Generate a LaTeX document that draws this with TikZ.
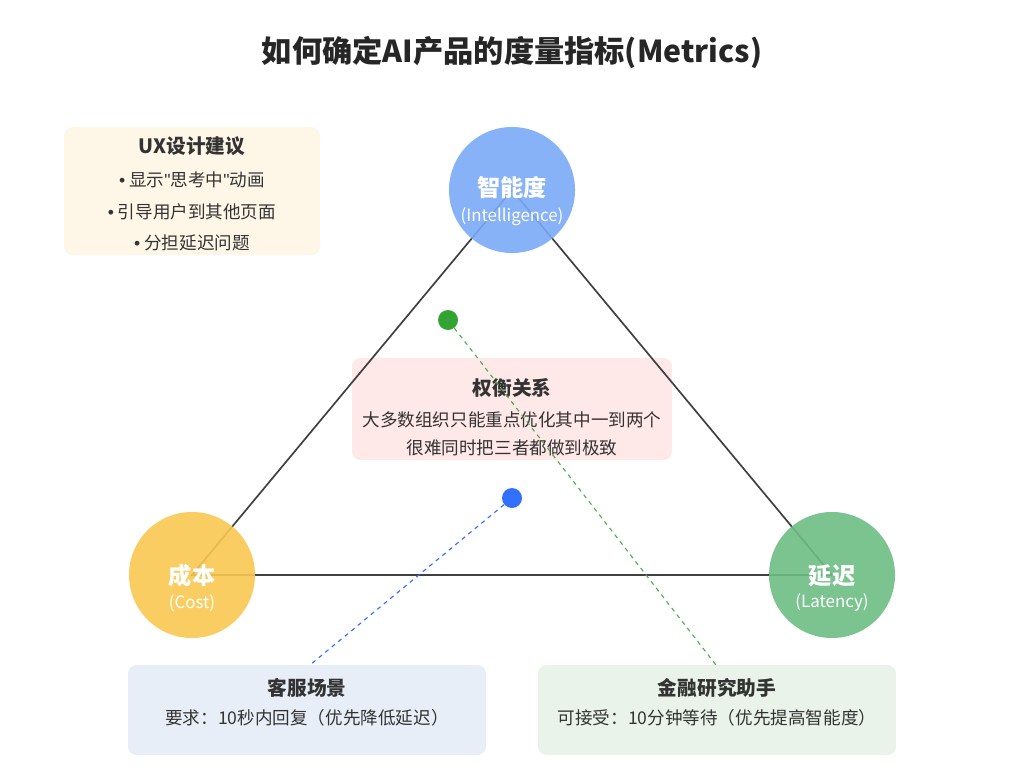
\documentclass[tikz,border=0pt]{standalone}
\usepackage{fontspec}
\setmainfont{Noto Sans CJK SC}
\newfontfamily\latf{Liberation Sans}
\begin{document}
\begin{tikzpicture}[x=0.025cm,y=-0.025cm,
  box/.style={rounded corners=6pt,draw=none},
  circ/.style={circle,minimum size=3.15cm,inner sep=0pt,opacity=0.9},
  big/.style={font=\bfseries\fontsize{16.5}{19}\selectfont,text=white},
  small/.style={font=\fontsize{12}{14}\selectfont,text=white},
  ttl/.style={font=\bfseries\fontsize{14}{16}\selectfont,text=black!80},
  txt/.style={font=\fontsize{12.5}{15}\selectfont,text=black!80},
  edge/.style={draw=black!75,line width=1.2pt},
  dsh/.style={dashed,line width=0.8pt}]
\useasboundingbox (0,0) rectangle (1024,768);
\definecolor{cblue}{HTML}{7BAAF7}
\definecolor{cyel}{HTML}{F9C851}
\definecolor{cgrn}{HTML}{6DBE83}
\node[font=\bfseries\fontsize{21.5}{25}\selectfont,text=black!85] (title) at (512,52) {如何确定AI产品的度量指标(Metrics)};
% boxes
\fill[box,fill=yellow!30!orange!8] (64,127) rectangle (320,255);
\node[ttl] (ux) at (192,146) {UX设计建议};
\node[txt] (u1) at (192,180) {{\latf•} 显示{\latf"}思考中{\latf"}动画};
\node[txt] (u2) at (192,212) {{\latf•} 引导用户到其他页面};
\node[txt] (u3) at (192,243) {{\latf•} 分担延迟问题};
\fill[box,fill=red!9] (352,358) rectangle (672,460);
\node[ttl] (tr) at (512,388) {权衡关系};
\node[txt] (t1) at (512,420) {大多数组织只能重点优化其中一到两个};
\node[txt] (t2) at (512,448) {很难同时把三者都做到极致};
\definecolor{bl}{HTML}{E8EEF8}
\definecolor{gl}{HTML}{E9F3EA}
\fill[box,fill=bl] (128,665) rectangle (486,755);
\fill[box,fill=gl] (538,665) rectangle (896,755);
\node[ttl] (cs) at (307,688) {客服场景};
\node[txt] (cs2) at (307,718) {要求：10秒内回复（优先降低延迟）};
\node[ttl] (fr) at (717,688) {金融研究助手};
\node[txt] (fr2) at (717,718) {可接受：10分钟等待（优先提高智能度）};
% triangle
\coordinate (I) at (512,190);
\coordinate (C) at (192,575);
\coordinate (L) at (832,575);
\draw[edge] (I) -- (C) -- (L) -- cycle;
\node[circ,fill=cblue] (ci) at (I) {};
\node[circ,fill=cyel] (cc) at (C) {};
\node[circ,fill=cgrn] (cl) at (L) {};
\node[big] at (512,188) {智能度};
\node[small] at (512,217) {(Intelligence)};
\node[big] at (192,576) {成本};
\node[small] at (192,603) {(Cost)};
\node[big] at (832,576) {延迟};
\node[small] at (832,603) {(Latency)};
% dots
\node[circle,fill=green!55!black!80,minimum size=0.5cm,inner sep=0pt] (gd) at (448,320) {};
\node[circle,fill=blue!70!cyan!80,minimum size=0.5cm,inner sep=0pt] (bd) at (512,498) {};
\coordinate (ge) at (716,665);
\coordinate (be) at (310,665);
\draw[dsh,draw=green!55!black!70] (gd) -- (ge);
\draw[dsh,draw=blue!70!cyan!80] (bd) -- (be);
\end{tikzpicture}
\end{document}
